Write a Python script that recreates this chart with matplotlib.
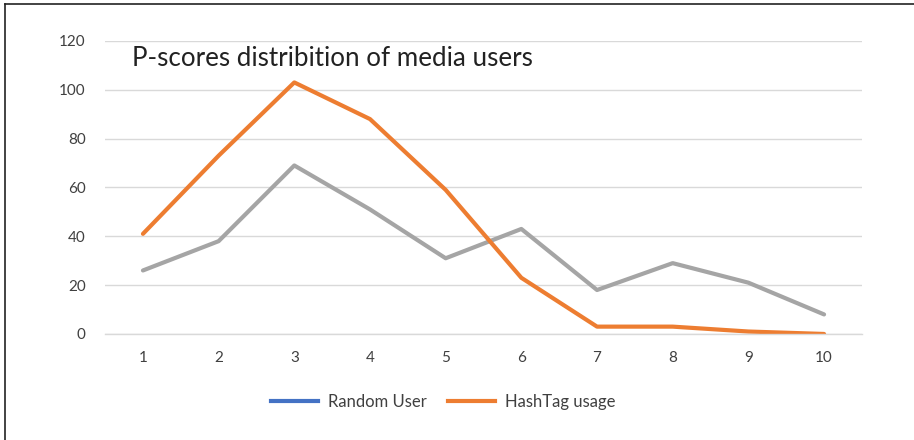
import matplotlib
matplotlib.use('Agg')
import matplotlib.pyplot as plt
from matplotlib.lines import Line2D

plt.rcParams['font.family'] = ['Lato', 'DejaVu Sans']

scores = [1, 2, 3, 4, 5, 6, 7, 8, 9, 10]
hashtag_usage = [41, 73, 103, 88, 59, 23, 3, 3, 1, 0]
random_user = [26, 38, 69, 51, 31, 43, 18, 29, 21, 8]
y_ticks = [0, 20, 40, 60, 80, 100, 120]

k_blue = '#4472C4'
k_orange = '#ED7D31'
k_gray = '#A5A5A5'

fig = plt.figure(figsize=(9.14, 4.4), dpi=100)
ax = fig.add_axes([0.115, 0.241, 0.828, 0.666])

x = list(range(len(scores)))
ax.plot(x, random_user, color=k_gray, linewidth=3, solid_capstyle='round', solid_joinstyle='round')
ax.plot(x, hashtag_usage, color=k_orange, linewidth=3, solid_capstyle='round', solid_joinstyle='round')

ax.set_xlim(-0.5, len(scores) - 0.5)
ax.set_ylim(0, 120)
ax.set_yticks(y_ticks)
ax.set_xticks(x)
ax.set_xticklabels([str(s) for s in scores])
ax.tick_params(axis='both', length=0, labelsize=11, labelcolor='#404040')
ax.tick_params(axis='x', pad=12)
ax.tick_params(axis='y', pad=14)
ax.grid(axis='y', color='#D9D9D9', linewidth=1)
ax.set_axisbelow(True)
for side in ['top', 'right', 'left']:
  ax.spines[side].set_visible(False)
ax.spines['bottom'].set_color('#D9D9D9')
ax.spines['bottom'].set_linewidth(1)

# title sits inside the plot area
ax.text(0.036, 0.94, 'P-scores distribition of media users', fontsize=18.7, color='#222222',
        ha='left', va='center', transform=ax.transAxes)

handles = [Line2D([0], [0], color=k_blue, linewidth=3),
           Line2D([0], [0], color=k_orange, linewidth=3)]
fig.legend(handles, ['Random User', 'HashTag usage'], loc='center', bbox_to_anchor=(0.485, 0.087),
           ncol=2, frameon=False, fontsize=12, handlelength=2.8, columnspacing=1.3, handletextpad=0.6,
           labelcolor='#404040')

fig.add_artist(Line2D([0.005, 1.0], [0.99, 0.99], color='#222222', linewidth=1.2, transform=fig.transFigure))
fig.add_artist(Line2D([0.005, 0.005], [0.0, 0.99], color='#222222', linewidth=1.2, transform=fig.transFigure))

fig.savefig('out.png', dpi=100)
